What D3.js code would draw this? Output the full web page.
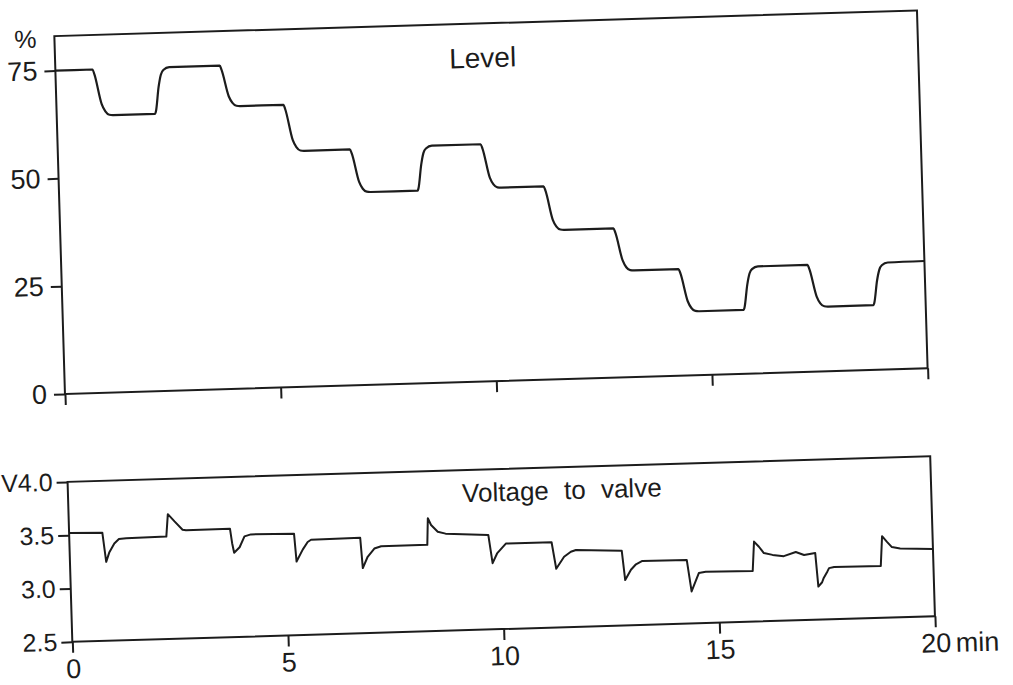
<!DOCTYPE html>
<html>
<head>
<meta charset="utf-8">
<script src="https://cdnjs.cloudflare.com/ajax/libs/d3/7.8.5/d3.min.js"></script>
<style>
body{margin:0;background:#fff;}
</style>
</head>
<body>
<svg id="chart" width="1013" height="685"></svg>
<script>
// ticks
var minuteTicks = [0, 5, 10, 15, 20];
var levelTicks = [0, 25, 50, 75];
var voltTicks = [2.5, 3.0, 3.5, 4.0];

// level trace (min, %)
var levelMin = [0, 0.86, 0.90, 1.05, 1.13, 1.22, 1.31,
	2.28, 2.30, 2.38, 2.44, 2.50, 2.64,
	3.81, 3.85, 4.00, 4.08, 4.17, 4.26,
	5.26, 5.30, 5.45, 5.53, 5.62, 5.71,
	6.77, 6.81, 6.96, 7.04, 7.13, 7.22,
	8.31, 8.33, 8.41, 8.47, 8.53, 8.67,
	9.80, 9.84, 9.99, 10.07, 10.16, 10.25,
	11.23, 11.27, 11.42, 11.50, 11.59, 11.68,
	12.82, 12.86, 13.01, 13.09, 13.18, 13.27,
	14.30, 14.34, 14.49, 14.57, 14.66, 14.75,
	15.78, 15.80, 15.88, 15.94, 16.00, 16.14,
	17.29, 17.33, 17.48, 17.56, 17.65, 17.74,
	18.79, 18.81, 18.89, 18.95, 19.01, 19.15,
	20.00];
var levelPct = [75, 75, 73.9, 66.9, 65.2, 64.4, 64.3,
	64.3, 64.8, 70.5, 73.3, 74.4, 75.0,
	75.0, 74.0, 67.8, 66.3, 65.6, 65.5,
	65.5, 64.4, 57.3, 55.6, 54.8, 54.7,
	54.7, 53.7, 47.1, 45.5, 44.8, 44.7,
	44.7, 45.2, 50.7, 53.4, 54.4, 55.0,
	55.0, 54.0, 47.2, 45.6, 44.9, 44.8,
	44.8, 43.8, 37.0, 35.4, 34.7, 34.6,
	34.6, 33.6, 27.1, 25.5, 24.8, 24.7,
	24.7, 23.7, 17.2, 15.6, 14.9, 14.8,
	14.8, 15.3, 20.6, 23.2, 24.2, 24.8,
	24.8, 23.8, 17.4, 15.8, 15.1, 15.0,
	15.0, 15.5, 20.7, 23.2, 24.2, 24.8,
	24.9];

// voltage to valve (min, V)
var voltMin = [0, 0.77, 0.84, 0.92, 1.04, 1.15, 1.32, 2.25,
	2.30, 2.45, 2.63, 2.71, 3.73,
	3.77, 3.81, 3.94, 4.06, 4.21, 5.21,
	5.25, 5.40, 5.52, 5.60, 6.74,
	6.78, 6.90, 7.06, 7.22, 8.29,
	8.32, 8.39, 8.54, 8.72, 9.71,
	9.79, 9.90, 10.11, 11.17,
	11.26, 11.45, 11.61, 11.73, 12.79,
	12.85, 12.99, 13.11, 13.26, 14.29,
	14.38, 14.56, 14.72, 15.81,
	15.86, 15.97, 16.08, 16.28, 16.54, 16.82, 17.01, 17.27,
	17.32, 17.41, 17.45, 17.54, 17.58, 17.70, 18.78,
	18.83, 18.94, 19.05, 19.24, 20.00];
var voltV = [3.52, 3.515, 3.24, 3.33, 3.41, 3.45, 3.455, 3.46,
	3.67, 3.60, 3.52, 3.515, 3.515,
	3.38, 3.29, 3.34, 3.44, 3.457, 3.45,
	3.19, 3.30, 3.37, 3.39, 3.395,
	3.11, 3.215, 3.29, 3.31, 3.31,
	3.56, 3.495, 3.43, 3.41, 3.385,
	3.12, 3.21, 3.30, 3.30,
	3.05, 3.16, 3.205, 3.22, 3.20,
	2.925, 3.02, 3.07, 3.10, 3.095,
	2.80, 2.97, 2.98, 2.975,
	3.25, 3.20, 3.14, 3.12, 3.105, 3.14, 3.11, 3.125,
	2.81, 2.85, 2.89, 2.95, 2.98, 2.99, 2.985,
	3.265, 3.21, 3.16, 3.145, 3.13];

var W = 1013, H = 685;
var plotLeft = 65, plotRight = 928;
var levelBox = {top: 36, bottom: 394};
var voltBox = {top: 482, bottom: 642};
var ink = "#1c1c1c";
var fontFam = "'Liberation Sans', Arial, sans-serif";

var svg = d3.select("#chart");
svg.append("rect").attr("width", W).attr("height", H).attr("fill", "#fff");
// the original scan sits a little tilted
var root = svg.append("g").attr("transform", "rotate(-1.7,63,395)");

var x = d3.scaleLinear().domain([0, 20]).range([plotLeft, plotRight]);
var yLevel = d3.scaleLinear().domain([0, 83]).range([levelBox.bottom, levelBox.top]);
var yVolt = d3.scaleLinear().domain([2.5, 4.0]).range([voltBox.bottom, voltBox.top]);

function styleAxis(g, size){
	g.attr("font-family", fontFam).attr("font-size", size).attr("color", ink);
	g.select(".domain").remove();
	g.selectAll(".tick line").attr("stroke-width", 2);
}

function drawFrame(box){
	root.append("rect")
		.attr("x", plotLeft)
		.attr("y", box.top)
		.attr("width", plotRight - plotLeft)
		.attr("height", box.bottom - box.top)
		.attr("fill", "none")
		.attr("stroke", ink)
		.attr("stroke-width", 2);
}

// ---- top panel: level ----
root.append("g")
	.attr("transform", "translate(" + plotLeft + ",0)")
	.call(d3.axisLeft(yLevel).tickValues(levelTicks).tickSize(11).tickPadding(7))
	.call(styleAxis, 27);
root.append("g")
	.attr("transform", "translate(0," + levelBox.bottom + ")")
	.call(d3.axisBottom(x).tickValues(minuteTicks).tickSize(11).tickFormat(""))
	.call(styleAxis, 27);
drawFrame(levelBox);

root.append("text")
	.attr("x", plotLeft - 18)
	.attr("y", 47)
	.attr("text-anchor", "end")
	.attr("font-family", fontFam)
	.attr("font-size", 25)
	.attr("fill", ink)
	.text("%");

root.append("text")
	.attr("x", 459)
	.attr("y", levelBox.top + 44)
	.attr("font-family", fontFam)
	.attr("font-size", 28)
	.attr("fill", ink)
	.text("Level");

var levelLine = d3.line()
	.x(function(d){ return x(d[0]); })
	.y(function(d){ return yLevel(d[1]); })
	.curve(d3.curveMonotoneX);
root.append("path")
	.datum(d3.zip(levelMin, levelPct))
	.attr("d", levelLine)
	.attr("fill", "none")
	.attr("stroke", ink)
	.attr("stroke-width", 2.2)
	.attr("stroke-linejoin", "round");

// ---- bottom panel: voltage ----
root.append("g")
	.attr("transform", "translate(" + plotLeft + ",0)")
	.call(d3.axisLeft(yVolt).tickValues(voltTicks).tickSize(11).tickPadding(4)
		.tickFormat(function(d){ return (d == 4 ? "V" : "") + d3.format(".1f")(d); }))
	.call(styleAxis, 25);
root.append("g")
	.attr("transform", "translate(0," + voltBox.bottom + ")")
	.call(d3.axisBottom(x).tickValues(minuteTicks).tickSize(11).tickPadding(6))
	.call(styleAxis, 27);
drawFrame(voltBox);

root.append("text")
	.attr("x", x(20) + 20)
	.attr("y", voltBox.bottom + 17)
	.attr("dy", "0.71em")
	.attr("font-family", fontFam)
	.attr("font-size", 27)
	.attr("fill", ink)
	.text("min");

root.append("text")
	.attr("x", 459)
	.attr("y", voltBox.top + 32)
	.attr("font-family", fontFam)
	.attr("font-size", 26)
	.attr("word-spacing", 8)
	.attr("fill", ink)
	.text("Voltage to valve");

var voltLine = d3.line()
	.x(function(d){ return x(d[0]); })
	.y(function(d){ return yVolt(d[1]); });
root.append("path")
	.datum(d3.zip(voltMin, voltV))
	.attr("d", voltLine)
	.attr("fill", "none")
	.attr("stroke", ink)
	.attr("stroke-width", 2)
	.attr("stroke-linejoin", "round");
</script>
</body>
</html>
